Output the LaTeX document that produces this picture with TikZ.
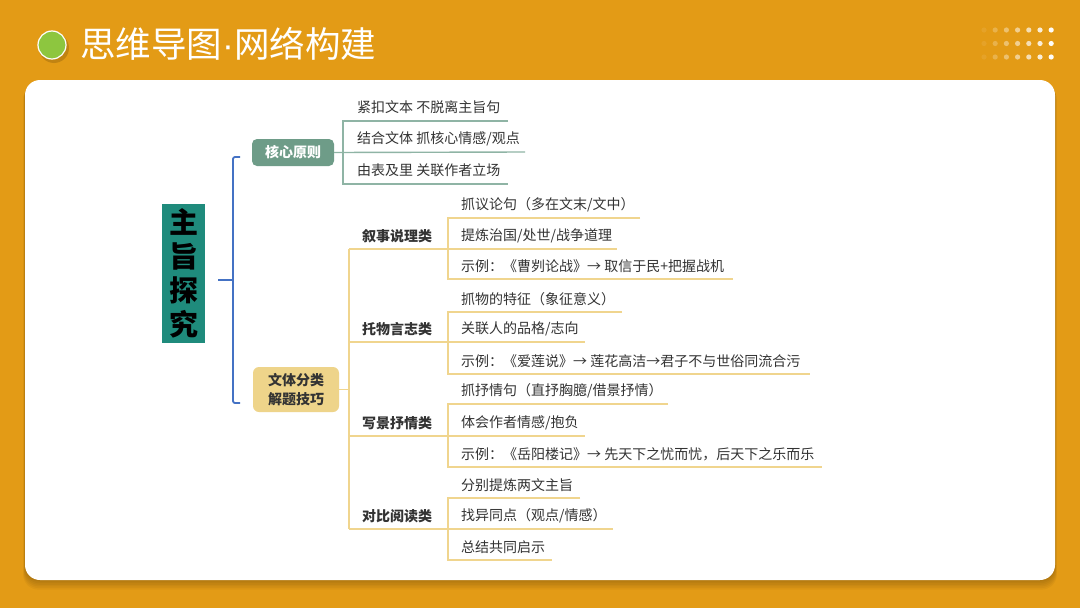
\documentclass[tikz,border=0pt]{standalone}
\usepackage{fontspec}
\setmainfont{Noto Sans CJK SC}
\newfontfamily\dotfont{Liberation Sans}
\definecolor{bgor}{HTML}{E39B16}
\definecolor{greenball}{HTML}{8DC63F}
\definecolor{rootteal}{HTML}{1F8B7C}
\definecolor{kfill}{HTML}{6E9C88}
\definecolor{kline}{HTML}{8FB4A5}
\definecolor{wfill}{HTML}{EED48A}
\definecolor{gline}{HTML}{F0D58E}
\definecolor{bline}{HTML}{4472C4}
\definecolor{txt}{HTML}{333333}
\begin{document}
\begin{tikzpicture}[x=1pt,y=-1pt,
  item/.style={anchor=west,inner sep=0pt,text=txt,font=\fontsize{14}{16}\selectfont},
  catlabel/.style={anchor=west,inner sep=0pt,text=txt,font=\fontsize{14}{16}\selectfont\bfseries},
  tl/.style={draw=kline,line width=1.4pt},
  gl/.style={draw=gline,line width=1.4pt},
  bl/.style={draw=bline,line width=1.8pt,rounded corners=2pt}]
\useasboundingbox (0,0) rectangle (1080,608);
\fill[bgor] (0,0) rectangle (1080,608);
% panel shadow and panel
\foreach \k in {1,...,6}{
  \fill[black,opacity=0.035,rounded corners=15pt] (25-\k*0.3,80+\k*0.8) rectangle (1055+\k*0.3,580+\k*1.6);
}
\fill[white,rounded corners=15pt] (25,80) rectangle (1055,580);
% title
\fill[black,opacity=0.15] (54,48) circle (15);
\fill[greenball,draw=white,line width=1.2pt] (52,45) circle (14);
\node[anchor=west,inner sep=0pt,text=white,font=\fontsize{35.5}{37}\selectfont] (title) at (80,44) {思维导图{\dotfont·}网络构建};
% dots
\foreach \i in {0,...,6}{
  \foreach \j in {0,1,2}{
    \fill[white,opacity=0.08+0.15*\i] (984+11.2*\i,30+13.5*\j) circle (2.6);
  }
}
% root
\node[fill=rootteal,minimum width=43pt,minimum height=139pt,inner sep=0pt,align=center,
  font=\fontsize{29}{34}\selectfont\bfseries,text=black] (root) at (183.5,273.5) {主\\旨\\探\\究};
% blue bracket
\coordinate (bmid) at (233,280);
\coordinate (btop) at (240,157);
\coordinate (bbot) at (240,403);
\draw[bl] (root.east |- bmid) ++(13,0) -- (bmid);
\draw[bl] (btop) -- (233,157) -- (233,403) -- (bbot);
% level-1 nodes
\node[fill=kfill,rounded corners=5pt,minimum width=82pt,minimum height=27pt,inner sep=0pt,
  text=white,font=\fontsize{14}{16}\selectfont\bfseries] (k) at (293,152.5) {核心原则};
\node[fill=wfill,rounded corners=6pt,minimum width=86pt,minimum height=45pt,inner sep=0pt,align=center,
  text=txt,font=\fontsize{14}{19}\selectfont\bfseries] (w) at (296,389.5) {文体分类\\解题技巧};
% core principles group
\draw[tl] (k.east) -- (525,152);
\draw[tl] (508,121) -- (343,121) -- (343,184) -- (508,184);
\node[item] (k1) at (357,107.5) {紧扣文本 不脱离主旨句};
\node[item] (k2) at (357,138.5) {结合文体 抓核心情感/观点};
\node[item] (k3) at (357,170.5) {由表及里 关联作者立场};
% genre group trunk
\draw[gl] (w.east) -- (349,389.5);
\draw[gl] (349,249) -- (349,529);
% 叙事说理类
\draw[gl] (349,249) -- (617,249);
\draw[gl] (640,218) -- (448,218) -- (448,279) -- (733,279);
\node[catlabel] (c1) at (362,236) {叙事说理类};
\node[item] (c1a) at (461,205) {抓议论句（多在文末/文中）};
\node[item] (c1b) at (461,236) {提炼治国/处世/战争道理};
\node[item] (c1c) at (461,266) {示例：《曹刿论战》→ 取信于民+把握战机};
% 托物言志类
\draw[gl] (349,342) -- (585,342);
\draw[gl] (622,312) -- (448,312) -- (448,374) -- (810,374);
\node[catlabel] (c2) at (362,329) {托物言志类};
\node[item] (c2a) at (461,299) {抓物的特征（象征意义）};
\node[item] (c2b) at (461,329) {关联人的品格/志向};
\node[item] (c2c) at (461,361) {示例：《爱莲说》→ 莲花高洁→君子不与世俗同流合污};
% 写景抒情类
\draw[gl] (349,436) -- (585,436);
\draw[gl] (668,404) -- (448,404) -- (448,467) -- (822,467);
\node[catlabel] (c3) at (362,423) {写景抒情类};
\node[item] (c3a) at (461,391) {抓抒情句（直抒胸臆/借景抒情）};
\node[item] (c3b) at (461,423) {体会作者情感/抱负};
\node[item] (c3c) at (461,454) {示例：《岳阳楼记》→ 先天下之忧而忧，后天下之乐而乐};
% 对比阅读类
\draw[gl] (349,529) -- (613,529);
\draw[gl] (580,498) -- (448,498) -- (448,560) -- (552,560);
\node[catlabel] (c4) at (362,516) {对比阅读类};
\node[item] (c4a) at (461,485) {分别提炼两文主旨};
\node[item] (c4b) at (461,516) {找异同点（观点/情感）};
\node[item] (c4c) at (461,547) {总结共同启示};
\end{tikzpicture}
\end{document}
